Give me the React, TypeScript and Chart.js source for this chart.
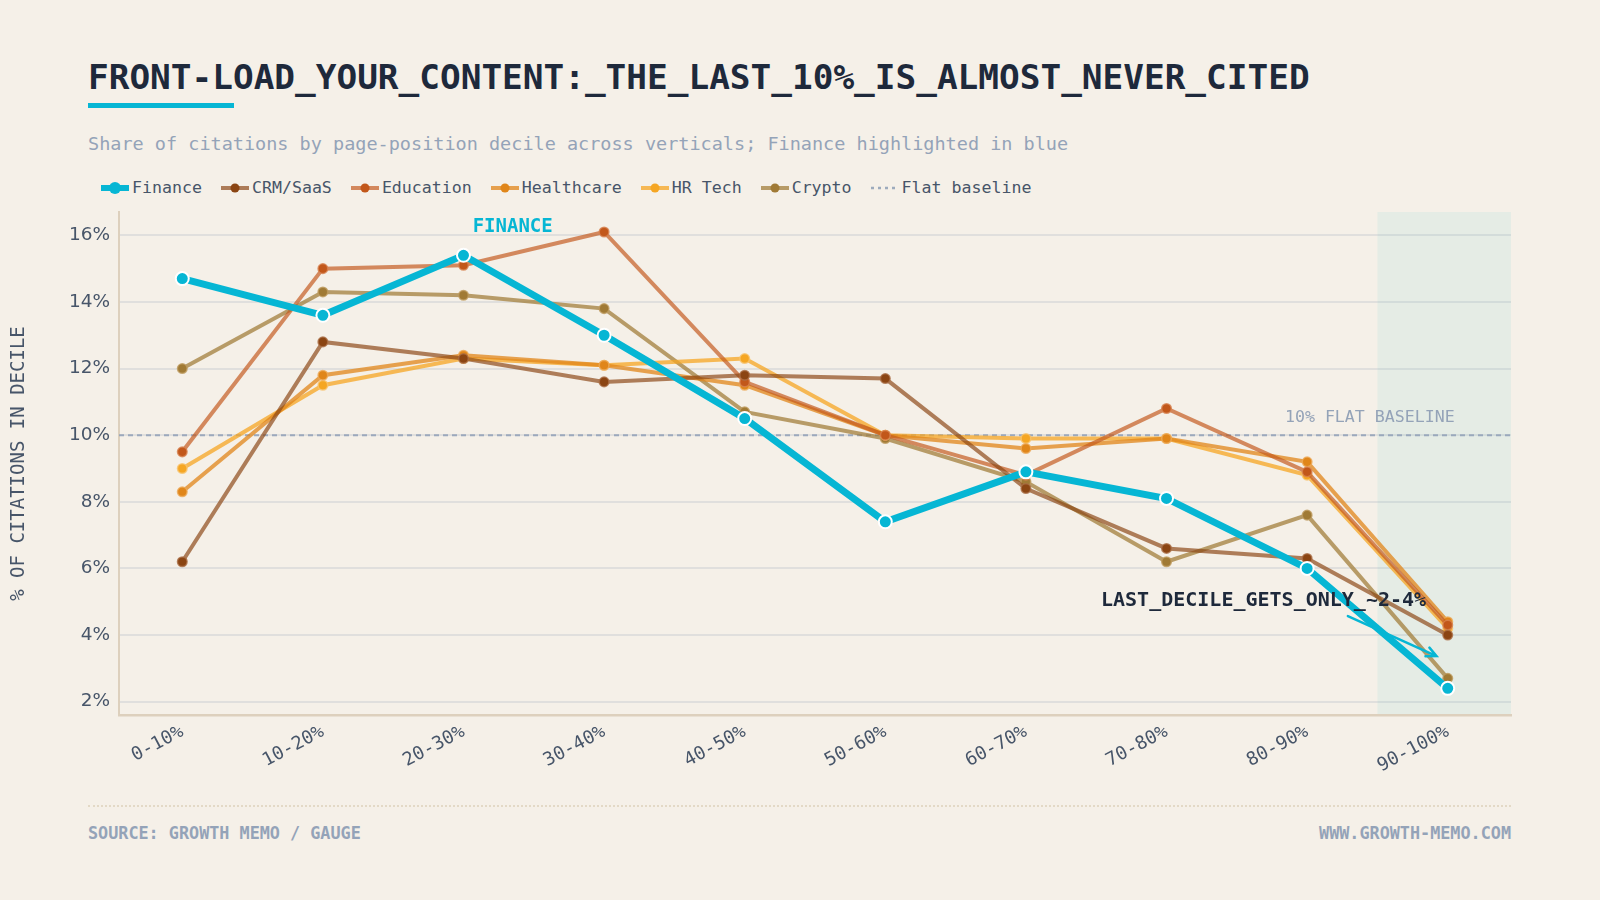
import React, { useEffect, useRef } from "react";
import { Chart, registerables } from "chart.js";

Chart.register(...registerables);

// ---- data ----
const deciles = ["0-10%", "10-20%", "20-30%", "30-40%", "40-50%", "50-60%", "60-70%", "70-80%", "80-90%", "90-100%"];
const finance = [14.7, 13.6, 15.4, 13.0, 10.5, 7.4, 8.9, 8.1, 6.0, 2.4];
const crmSaas = [6.2, 12.8, 12.3, 11.6, 11.8, 11.7, 8.4, 6.6, 6.3, 4.0];
const education = [9.5, 15.0, 15.1, 16.1, 11.6, 10.0, 8.8, 10.8, 8.9, 4.3];
const healthcare = [8.3, 11.8, 12.4, 12.1, 11.5, 10.0, 9.6, 9.9, 9.2, 4.4];
const hrTech = [9.0, 11.5, 12.3, 12.1, 12.3, 10.0, 9.9, 9.9, 8.8, 4.2];
const crypto = [12.0, 14.3, 14.2, 13.8, 10.7, 9.9, 8.6, 6.2, 7.6, 2.7];
const baselineValue = 10;
const yTickValues = [2, 4, 6, 8, 10, 12, 14, 16];

const MONO = "'DejaVu Sans Mono', monospace";
const SANS = "'DejaVu Sans', sans-serif";
const BG = "#f5f0e8";
const CYAN = "#06b6d4";
const SLATE = "#475569";
const MUTED = "#94a3b8";

type Series = { name: string; values: number[]; color: string; line: string; ring: string };

const others: Series[] = [
  { name: "CRM/SaaS", values: crmSaas, color: "#8b4513", line: "rgba(139,69,19,0.68)", ring: "rgba(170,110,70,0.8)" },
  { name: "Education", values: education, color: "#c2571a", line: "rgba(194,87,26,0.68)", ring: "rgba(215,130,80,0.8)" },
  { name: "Healthcare", values: healthcare, color: "#e0861a", line: "rgba(224,134,26,0.75)", ring: "rgba(236,170,90,0.8)" },
  { name: "HR Tech", values: hrTech, color: "#f5a623", line: "rgba(245,166,35,0.75)", ring: "rgba(248,195,110,0.8)" },
  { name: "Crypto", values: crypto, color: "#a07a35", line: "rgba(160,122,53,0.72)", ring: "rgba(190,155,95,0.8)" },
];

const X_MIN = -0.45;
const X_MAX = 9.45;

const toPoints = (vals: number[]) => vals.map((y, i) => ({ x: i, y }));

// background band for the last decile, plus callouts
const overlayPlugin = {
  id: "overlay",
  beforeDraw(chart: any) {
    const { ctx, chartArea, scales } = chart;
    const x0 = scales.x.getPixelForValue(8.5);
    ctx.save();
    ctx.fillStyle = "#e5ece5";
    ctx.fillRect(x0, chartArea.top, chartArea.right - x0, chartArea.bottom - chartArea.top);
    ctx.restore();
  },
  afterDatasetsDraw(chart: any) {
    const { ctx, scales } = chart;
    const xs = scales.x;
    const ys = scales.y;
    ctx.save();
    ctx.textBaseline = "middle";

    ctx.font = `bold 19px ${MONO}`;
    ctx.fillStyle = CYAN;
    ctx.textAlign = "center";
    ctx.fillText("FINANCE", xs.getPixelForValue(2.35), ys.getPixelForValue(16.25));

    ctx.font = `16.6px ${MONO}`;
    ctx.fillStyle = MUTED;
    ctx.textAlign = "right";
    ctx.fillText("10% FLAT BASELINE", xs.getPixelForValue(9.05), ys.getPixelForValue(10.53));

    ctx.font = `bold 20px ${MONO}`;
    ctx.fillStyle = "#1e293b";
    ctx.textAlign = "center";
    ctx.fillText("LAST_DECILE_GETS_ONLY_~2-4%", xs.getPixelForValue(7.69), ys.getPixelForValue(5.02));

    // arrow toward the last Finance point
    const ax0 = xs.getPixelForValue(8.29);
    const ay0 = ys.getPixelForValue(4.57);
    const ax1 = xs.getPixelForValue(8.92);
    const ay1 = ys.getPixelForValue(3.37);
    const ang = Math.atan2(ay1 - ay0, ax1 - ax0);
    ctx.strokeStyle = CYAN;
    ctx.lineWidth = 2.5;
    ctx.lineCap = "round";
    ctx.beginPath();
    ctx.moveTo(ax0, ay0);
    ctx.lineTo(ax1, ay1);
    ctx.moveTo(ax1 - 11 * Math.cos(ang - 0.45), ay1 - 11 * Math.sin(ang - 0.45));
    ctx.lineTo(ax1, ay1);
    ctx.lineTo(ax1 - 11 * Math.cos(ang + 0.45), ay1 - 11 * Math.sin(ang + 0.45));
    ctx.stroke();
    ctx.restore();
  },
};

function LegendIcon({ color, dot, width, r, dashed }: { color: string; dot?: string; width: number; r: number; dashed?: boolean }) {
  return (
    <svg width={30} height={16} style={{ display: "block" }}>
      <line x1={1} y1={8} x2={29} y2={8} stroke={color} strokeWidth={width} strokeDasharray={dashed ? "3 4" : undefined} />
      {dot ? <circle cx={15} cy={8} r={r} fill={dot} /> : null}
    </svg>
  );
}

export default function App() {
  const canvasRef = useRef<HTMLCanvasElement | null>(null);

  useEffect(() => {
    if (!canvasRef.current) return;
    const datasets: any[] = [
      {
        label: "Finance",
        data: toPoints(finance),
        borderColor: CYAN,
        backgroundColor: CYAN,
        borderWidth: 7,
        pointRadius: 6.5,
        pointBorderColor: "#ffffff",
        pointBorderWidth: 2,
        pointBackgroundColor: CYAN,
        tension: 0,
      },
      ...others.map((s) => ({
        label: s.name,
        data: toPoints(s.values),
        borderColor: s.line,
        backgroundColor: s.color,
        borderWidth: 4,
        pointRadius: 4.8,
        pointBackgroundColor: s.color,
        pointBorderColor: s.ring,
        pointBorderWidth: 1.5,
        tension: 0,
      })),
      {
        label: "Flat baseline",
        data: [
          { x: X_MIN, y: baselineValue },
          { x: X_MAX, y: baselineValue },
        ],
        borderColor: "rgba(148,163,184,0.9)",
        borderWidth: 2,
        borderDash: [5, 4],
        pointRadius: 0,
        tension: 0,
      },
    ];

    const chart = new Chart(canvasRef.current, {
      type: "line",
      data: { datasets },
      plugins: [overlayPlugin],
      options: {
        animation: false,
        responsive: false,
        devicePixelRatio: 1,
        layout: { padding: { top: 12, right: 89, left: 0, bottom: 0 } },
        plugins: {
          legend: { display: false },
          tooltip: { enabled: false },
        },
        scales: {
          x: {
            type: "linear",
            min: X_MIN,
            max: X_MAX,
            afterBuildTicks: (axis: any) => {
              axis.ticks = deciles.map((_, i) => ({ value: i }));
            },
            afterFit: (axis: any) => {
              axis.height = 80;
              axis.paddingLeft = 0;
              axis.paddingRight = 0;
            },
            grid: { display: false, drawTicks: false },
            border: { display: true, color: "#ddd0bd", width: 2.5 },
            ticks: {
              autoSkip: false,
              minRotation: 28,
              maxRotation: 28,
              padding: 6,
              color: SLATE,
              font: { family: MONO, size: 18.5 },
              callback: (v: any) => deciles[Number(v)] ?? "",
            },
          },
          y: {
            min: 1.6,
            max: 16.7,
            afterBuildTicks: (axis: any) => {
              axis.ticks = yTickValues.map((v) => ({ value: v }));
            },
            afterFit: (axis: any) => {
              axis.width = 119;
              axis.paddingTop = 0;
              axis.paddingBottom = 0;
            },
            grid: { color: "rgba(148,163,184,0.22)", lineWidth: 2, drawTicks: false },
            border: { display: true, color: "#ddd0bd", width: 2 },
            ticks: {
              padding: 9,
              color: SLATE,
              font: { family: SANS, size: 18.5 },
              callback: (v: any) => `${v}%`,
            },
            title: {
              display: true,
              text: "% OF CITATIONS IN DECILE",
              color: SLATE,
              font: { family: MONO, size: 19 },
              padding: { top: 7.5, bottom: 4 },
            },
          },
        },
      } as any,
    });
    return () => chart.destroy();
  }, []);

  const legendItems = [
    { name: "Finance", color: CYAN, dot: CYAN, width: 6, r: 6 },
    ...others.map((s) => ({ name: s.name, color: s.line, dot: s.color, width: 4, r: 4.5 })),
  ];

  return (
    <div style={{ position: "absolute", left: 0, top: 0, width: 1600, height: 900, background: BG, overflow: "hidden" }}>
      <div
        style={{
          position: "absolute",
          left: 88,
          top: 76.5 - 20,
          height: 40,
          lineHeight: "40px",
          fontFamily: MONO,
          fontWeight: "bold",
          fontSize: 34.4,
          color: "#1e293b",
          whiteSpace: "nowrap",
        }}
      >
        FRONT-LOAD_YOUR_CONTENT:_THE_LAST_10%_IS_ALMOST_NEVER_CITED
      </div>
      <div style={{ position: "absolute", left: 88, top: 103, width: 146, height: 4.5, background: CYAN }} />
      <div
        style={{
          position: "absolute",
          left: 88,
          top: 144 - 12,
          height: 24,
          lineHeight: "24px",
          fontFamily: MONO,
          fontSize: 18.5,
          color: MUTED,
          whiteSpace: "nowrap",
        }}
      >
        Share of citations by page-position decile across verticals; Finance highlighted in blue
      </div>

      <div
        style={{
          position: "absolute",
          left: 100,
          top: 188 - 11,
          height: 22,
          display: "flex",
          alignItems: "center",
          fontFamily: MONO,
          fontSize: 16.6,
          color: SLATE,
          whiteSpace: "nowrap",
        }}
      >
        {legendItems.map((it) => (
          <div key={it.name} style={{ display: "flex", alignItems: "center", marginRight: 18 }}>
            <LegendIcon color={it.color} dot={it.dot} width={it.width} r={it.r} />
            <span style={{ marginLeft: 2, lineHeight: "22px" }}>{it.name}</span>
          </div>
        ))}
        <div style={{ display: "flex", alignItems: "center" }}>
          <LegendIcon color="rgba(148,163,184,0.9)" width={2.5} r={0} dashed />
          <span style={{ marginLeft: 2, lineHeight: "22px" }}>Flat baseline</span>
        </div>
      </div>

      <canvas
        ref={canvasRef}
        width={1600}
        height={595}
        style={{ position: "absolute", left: 0, top: 200, width: 1600, height: 595 }}
      />

      <div style={{ position: "absolute", left: 88, top: 805, width: 1423, borderTop: "2px dotted #e3d9c6" }} />
      <div
        style={{
          position: "absolute",
          left: 88,
          top: 833 - 11,
          height: 22,
          lineHeight: "22px",
          fontFamily: MONO,
          fontWeight: "bold",
          fontSize: 16.8,
          color: MUTED,
          whiteSpace: "nowrap",
        }}
      >
        SOURCE: GROWTH MEMO / GAUGE
      </div>
      <div
        style={{
          position: "absolute",
          right: 1600 - 1511,
          top: 833 - 11,
          height: 22,
          lineHeight: "22px",
          fontFamily: MONO,
          fontWeight: "bold",
          fontSize: 16.8,
          color: MUTED,
          whiteSpace: "nowrap",
          textAlign: "right",
        }}
      >
        WWW.GROWTH-MEMO.COM
      </div>
    </div>
  );
}
